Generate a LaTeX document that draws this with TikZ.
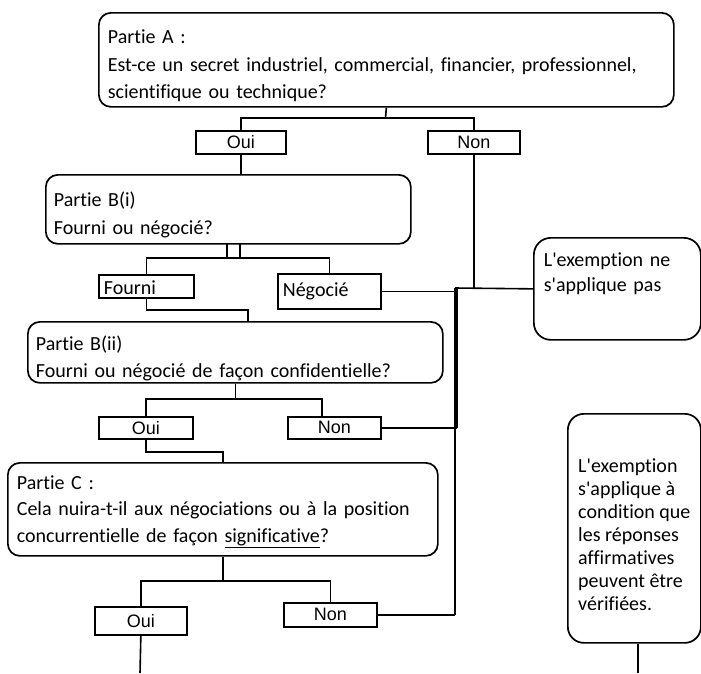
\documentclass[tikz,border=0pt]{standalone}
\usepackage{fontspec}
\setmainfont{Carlito}[Ligatures={TeXOff,CommonOff}]
\newfontfamily\arialfont{Liberation Sans}
\usepackage{tikz}
\usetikzlibrary{positioning, calc}

\newcommand\topfix{\rule{0pt}{26pt}}

\tikzset{
    qbox/.style={draw, line width=1.7pt, rounded corners=12pt, anchor=north west, align=left, inner xsep=9pt, inner ysep=0pt, font=\fontsize{20}{27.5}\selectfont},
    endbox/.style={qbox, rounded corners=17pt, inner xsep=10pt},
    ansbox/.style={draw, line width=1.7pt, anchor=north west, inner sep=0pt, font=\arialfont\fontsize{18}{20}\selectfont},
    choicebox/.style={draw, line width=1.7pt, anchor=north west, align=left, inner xsep=5pt, inner ysep=0pt, font=\fontsize{20}{22}\selectfont},
    link/.style={line width=1.6pt}
}

\begin{document}
\begin{tikzpicture}[x=1pt, y=-1pt]
    \useasboundingbox (0,0) rectangle (701,673);

    % questions
    \node[qbox, text width=557pt, minimum height=94pt] (partA) at (98,12) {\topfix Partie A :\\Est-ce un secret industriel, commercial, financier, professionnel,\\scientifique ou technique?};
    \node[qbox, inner xsep=8pt, text width=349pt, minimum height=69pt, font=\fontsize{20}{28}\selectfont] (partBi) at (45,174) {\topfix Partie B(i)\\Fourni ou négocié?};
    \node[qbox, inner xsep=8pt, text width=399pt, minimum height=61pt, font=\fontsize{20}{27}\selectfont] (partBii) at (27,321) {\topfix Partie B(ii)\\Fourni ou négocié de façon confidentielle?};
    \node[qbox, text width=412pt, minimum height=93pt, font=\fontsize{20}{26.5}\selectfont] (partC) at (7,462) {\rule{0pt}{18pt}Partie C :\\Cela nuira-t-il aux négociations ou à la position\\concurrentielle de façon \underline{significative}?};

    % answers
    \node[ansbox, minimum width=90pt, minimum height=23pt] (ouiA) at (195,130) {Oui};
    \node[ansbox, minimum width=92pt, minimum height=23pt] (nonA) at (427,130) {Non};
    \node[choicebox, text width=85pt, text height=18pt, text depth=1pt, minimum height=23pt] (fourni) at (98,274) {Fourni};
    \node[choicebox, text width=93pt, minimum height=35pt] (negocie) at (277,273) {Négocié};
    \node[ansbox, minimum width=94pt, minimum height=22pt] (ouiBii) at (98,416) {Oui};
    \node[ansbox, minimum width=93pt, minimum height=22pt] (nonBii) at (287,416) {Non};
    \node[ansbox, minimum width=92pt, minimum height=28pt] (ouiC) at (94,606) {Oui};
    \node[ansbox, minimum width=93pt, minimum height=24pt] (nonC) at (283,602) {Non};

    % outcomes
    \node[endbox, text width=147pt, minimum height=102pt, font=\fontsize{20}{25}\selectfont] (nonapplique) at (533,237) {L'exemption ne\\s'applique pas\\[8pt]~};
    \node[endbox, rounded corners=16pt, minimum width=133pt, minimum height=229pt, font=\fontsize{20}{23}\selectfont] (applique) at (567,413) {\mbox{}\\[3pt]L'exemption\\s'applique à\\condition que\\les réponses\\affirmatives\\peuvent être\\vérifiées.};

    % connectors
    \coordinate (splitA) at (385.5,118);
    \coordinate (splitBi) at (233.5,258);
    \coordinate (kinkF) at (248,310);
    \coordinate (bus) at (455,288);
    \coordinate (endOui) at (140,673);
    \coordinate (endApp) at (638,673);

    \draw[link] (partA.south) -- (splitA);
    \draw[link] (ouiA.north) |- (splitA) -| (nonA.north);
    \draw[link] (ouiA.south) -- (ouiA.south |- partBi.north);
    \draw[link] (nonA.south) -- (nonA.south |- nonapplique.west);
    \draw[link] (bus) -- (nonapplique.west);

    \draw[link] (227,243) -- (227,258);
    \draw[link] (240,243) -- (240,258);
    \draw[link] (fourni.north) |- (splitBi) -| (negocie.north);
    \draw[link] (negocie.east) -- ($(negocie.east -| bus)+(2,0)$);
    \draw[link] (fourni.south) |- (kinkF) -- (kinkF |- partBii.north);

    \draw[link] (bus) -- (bus |- nonC.east);
    \draw[link] ([xshift=2pt]bus) -- ([xshift=2pt]bus |- nonBii.east);

    \draw[link] (partBii.south) -- ++(0,15) coordinate (splitBii);
    \draw[link] (ouiBii.north) |- (splitBii) -| ([xshift=-12.5pt]nonBii.north);
    \draw[link] (nonBii.east) -- ($(nonBii.east -| bus)+(2,0)$);
    \draw[link] (ouiBii.south) |- ([yshift=10pt]partC.north) -- (partC.north);

    \draw[link] (partC.south) -- ++(0,24) coordinate (splitC);
    \draw[link] (ouiC.north) |- (splitC) -| (nonC.north);
    \draw[link] (nonC.east) -- (nonC.east -| bus);
    \draw[link] (ouiC.south) -- (endOui);
    \draw[link] (endApp |- applique.south) -- (endApp);
\end{tikzpicture}
\end{document}
